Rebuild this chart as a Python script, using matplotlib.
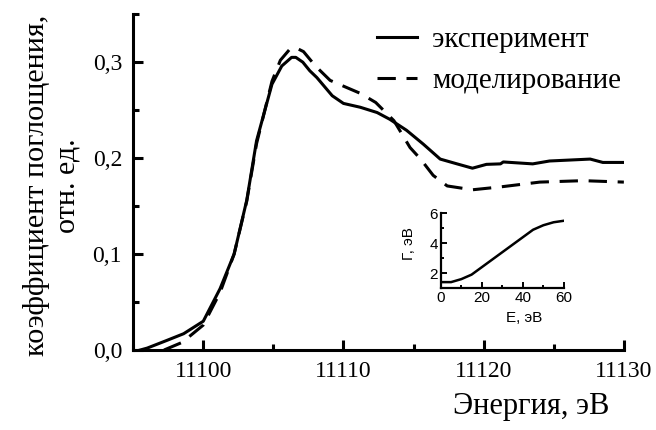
import matplotlib
matplotlib.use("Agg")
import matplotlib.pyplot as plt
from matplotlib.ticker import MultipleLocator

plt.rcParams["font.family"] = ["Liberation Serif", "DejaVu Serif"]

# experiment (solid)
exp_e = [11095.5, 11096.0, 11097.4, 11098.6, 11100.0, 11101.2, 11102.2, 11103.1,
         11103.8, 11104.9, 11105.6, 11106.3, 11106.6, 11107.1, 11107.6, 11108.1,
         11109.2, 11110.0, 11111.2, 11112.4, 11113.3, 11114.5, 11115.7, 11116.9,
         11118.1, 11119.2, 11120.2, 11121.2, 11121.4, 11123.5, 11124.7, 11127.6,
         11128.5, 11130.0]
exp_v = [0.000, 0.002, 0.010, 0.017, 0.030, 0.064, 0.100, 0.156,
         0.218, 0.277, 0.296, 0.305, 0.305, 0.300, 0.291, 0.284,
         0.265, 0.257, 0.253, 0.2475, 0.2405, 0.229, 0.2145, 0.199,
         0.194, 0.1895, 0.1935, 0.194, 0.196, 0.194, 0.197, 0.199,
         0.1955, 0.1955]

# modelling (dashed)
mod_e = [11097.2, 11098.5, 11100.0, 11101.2, 11102.2, 11103.1, 11103.8, 11104.9,
         11105.5, 11106.2, 11106.6, 11107.15, 11108.0, 11109.05, 11110.0, 11111.2,
         11112.3, 11113.6, 11114.75, 11115.5, 11116.4, 11117.4, 11119.2, 11121.2,
         11124.0, 11127.1, 11130.0]
mod_v = [0.000, 0.008, 0.026, 0.060, 0.100, 0.155, 0.215, 0.280,
         0.302, 0.314, 0.315, 0.311, 0.296, 0.281, 0.275, 0.2675,
         0.258, 0.239, 0.211, 0.199, 0.182, 0.171, 0.167, 0.170,
         0.175, 0.1765, 0.175]

# inset: broadening vs energy
gam_e = [0, 5, 10, 15, 20, 25, 30, 35, 40, 45, 50, 55, 60]
gam_v = [1.4, 1.4, 1.6, 1.9, 2.4, 2.9, 3.4, 3.9, 4.4, 4.9, 5.2, 5.4, 5.5]

SANS = ["Liberation Sans", "DejaVu Sans"]

fig = plt.figure(figsize=(6.56, 4.30), dpi=100)
ax = fig.add_axes([0.203, 0.186, 0.748, 0.781])

ax.plot(exp_e, exp_v, "-", color="black", lw=2.2, label="эксперимент")
ax.plot(mod_e, mod_v, "--", color="black", lw=2.2, dashes=(6, 3.5), label="моделирование")

ax.set_xlim(11095, 11130)
ax.set_ylim(0, 0.35)
ax.xaxis.set_minor_locator(MultipleLocator(5))
ax.yaxis.set_minor_locator(MultipleLocator(0.05))
ax.set_xticks([11100, 11110, 11120, 11130])
ax.set_yticks([0.0, 0.1, 0.2, 0.3])
ax.set_yticklabels(["0,0", "0,1", "0,2", "0,3"])
for s in ["top", "right"]:
    ax.spines[s].set_visible(False)
for s in ["left", "bottom"]:
    ax.spines[s].set_linewidth(2.2)
ax.tick_params(which="both", direction="in", width=2.2, labelsize=17, pad=8)
ax.tick_params(which="major", length=7)
ax.tick_params(which="minor", length=4)

ax.set_xlabel("Энергия, эВ", fontsize=22)
ax.xaxis.set_label_coords(0.812, -0.125)
ax.set_ylabel("коэффициент поглощения,\nотн. ед.", fontsize=21.7,
              multialignment="center", linespacing=1.2)
ax.yaxis.set_label_coords(-0.108, 0.49)

ax.legend(loc="upper right", bbox_to_anchor=(1.03, 1.015), frameon=False,
          fontsize=21, handlelength=1.4, handletextpad=0.5, labelspacing=0.5,
          borderaxespad=0.2)

# inset
axi = fig.add_axes([0.672, 0.330, 0.1875, 0.174])
axi.plot(gam_e, gam_v, "-", color="black", lw=1.8)
axi.set_xlim(0, 60)
axi.set_ylim(1, 6)
axi.xaxis.set_major_locator(MultipleLocator(20))
axi.xaxis.set_minor_locator(MultipleLocator(10))
axi.set_yticks([2, 4, 6])
axi.yaxis.set_minor_locator(MultipleLocator(1))
for s in ["top", "right"]:
    axi.spines[s].set_visible(False)
for s in ["left", "bottom"]:
    axi.spines[s].set_linewidth(1.6)
axi.tick_params(which="both", direction="in", width=1.4, labelsize=11, pad=2)
axi.tick_params(which="major", length=4)
axi.tick_params(which="minor", length=2.5)
for lab in axi.get_xticklabels() + axi.get_yticklabels():
    lab.set_family(SANS)
axi.set_xlabel("E, эВ", fontsize=11, family=SANS)
axi.xaxis.set_label_coords(0.68, -0.3)
axi.set_ylabel("Γ, эВ", fontsize=11, family=SANS)
axi.yaxis.set_label_coords(-0.2, 0.6)

fig.savefig("out.png", dpi=100)
